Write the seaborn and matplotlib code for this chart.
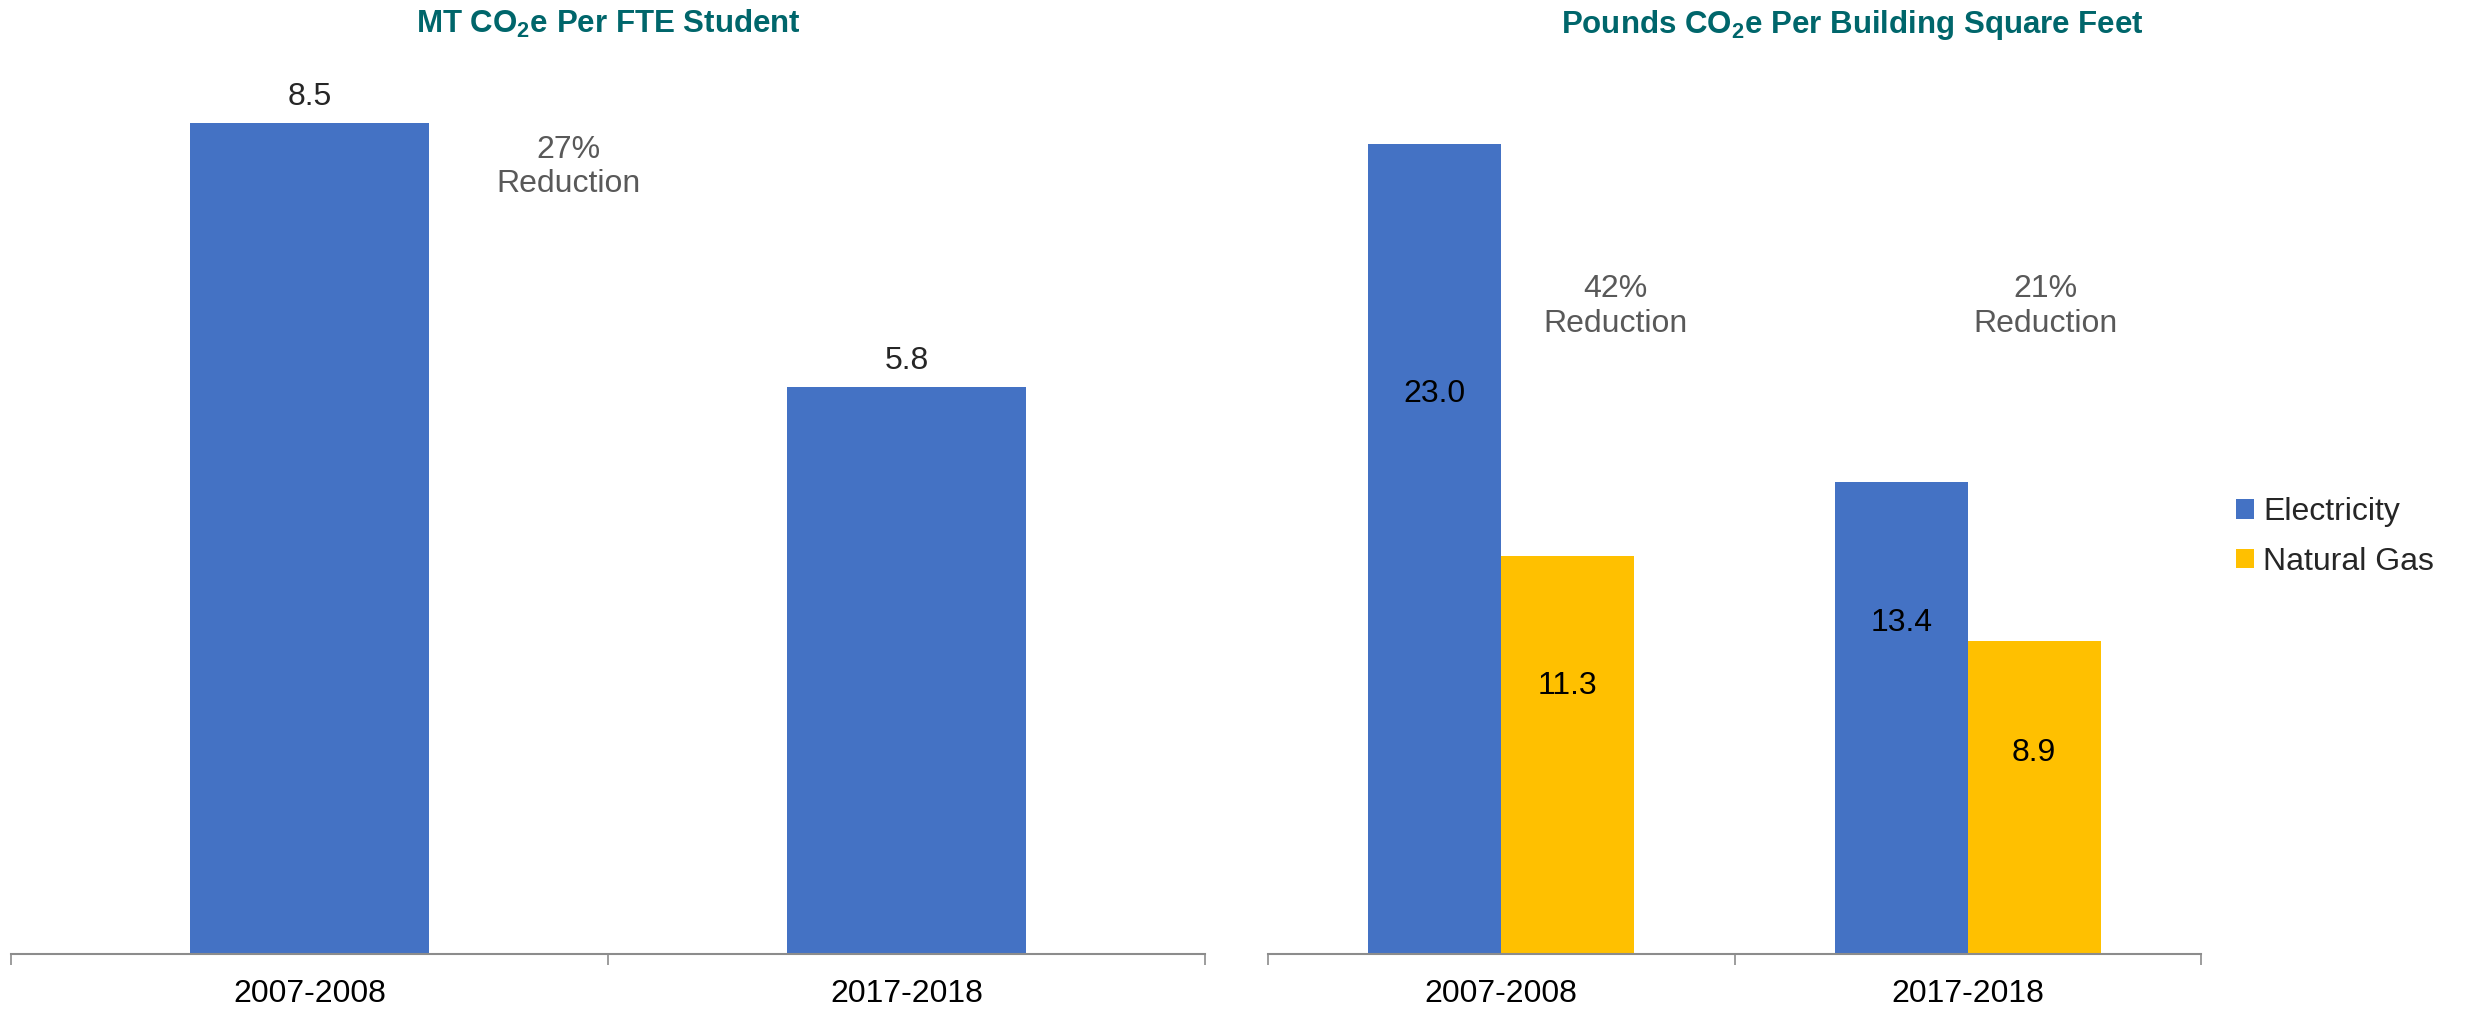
import matplotlib
matplotlib.use("Agg")
import matplotlib.pyplot as plt
from matplotlib.patches import Patch
import seaborn as sns
import pandas as pd

# ---- data ----
years = ['2007-2008', '2017-2018']
per_fte = [8.5, 5.8]
sources = ['Electricity', 'Natural Gas']
electricity = [23.0, 13.4]
natural_gas = [11.3, 8.9]
left_note = '27%\nReduction'
right_notes = ['42%\nReduction', '21%\nReduction']

BLUE = '#4472C4'
GOLD = '#FFC000'
TEAL = '#00666B'
AXIS = '#8C8C8C'
NOTE = '#595959'

sns.set_style('white')
plt.rcParams['font.family'] = ['Liberation Sans', 'DejaVu Sans']
plt.rcParams['mathtext.fontset'] = 'custom'
plt.rcParams['mathtext.rm'] = 'Liberation Sans'
plt.rcParams['mathtext.bf'] = 'Liberation Sans:bold'

W, H = 2468, 1009
fig = plt.figure(figsize=(W / 100, H / 100), dpi=100)

def px_axes(x0, x1, y_top, y_bot):
    return fig.add_axes([x0 / W, 1 - y_bot / H, (x1 - x0) / W, (y_bot - y_top) / H])

ax1 = px_axes(11, 1205, 74, 954)
ax2 = px_axes(1268, 2201, 74, 954)

# ---- left: per FTE student ----
df1 = pd.DataFrame({'year': years, 'value': per_fte})
sns.barplot(data=df1, x='year', y='value', color=BLUE, width=0.4,
            saturation=1, linewidth=0, ax=ax1)
ax1.bar_label(ax1.containers[0], fmt='%.1f', padding=8, fontsize=23)
ax1.set_ylim(0, 9)
ax1.text(0.433, 8.05, left_note, ha='center', va='center', fontsize=23, color=NOTE)

# ---- right: per building square feet ----
df2 = pd.DataFrame({
    'year': years * 2,
    'source': [sources[0]] * 2 + [sources[1]] * 2,
    'value': electricity + natural_gas,
})
sns.barplot(data=df2, x='year', y='value', hue='source', palette=[BLUE, GOLD],
            width=0.57, saturation=1, linewidth=0, ax=ax2, legend=False)
ax2.set_ylim(0, 25)
label_heights = [[15.9, 9.4], [7.6, 5.7]]
for cont, vals, ys in zip(ax2.containers, [electricity, natural_gas], label_heights):
    for bar, v, yy in zip(cont, vals, ys):
        ax2.text(bar.get_x() + bar.get_width() / 2, yy, f'{v:.1f}',
                 ha='center', va='center', fontsize=23, color='black')
for xpos, note in zip([0.245, 1.167], right_notes):
    ax2.text(xpos, 18.4, note, ha='center', va='center', fontsize=23, color=NOTE)

# ---- shared axis styling ----
for ax in (ax1, ax2):
    ax.set_xlim(-0.5, 1.5)
    ax.set_xlabel('')
    ax.set_ylabel('')
    ax.set_yticks([])
    for s in ('top', 'left', 'right'):
        ax.spines[s].set_visible(False)
    ax.spines['bottom'].set_color(AXIS)
    ax.spines['bottom'].set_linewidth(1.5)
    ax.set_xticks([-0.5, 0.5, 1.5], minor=True)
    ax.tick_params(axis='x', which='minor', bottom=True, length=8, width=1.2,
                   color=AXIS, direction='out')
    ax.tick_params(axis='x', which='major', bottom=True, length=0, pad=18,
                   labelsize=23, labelcolor='black')

# ---- titles ----
fig.text(608 / W, 1 - 33 / H, r'MT CO$_{\mathbf{2}}$e Per FTE Student',
         ha='center', va='baseline', fontsize=22.5, fontweight='bold', color=TEAL)
fig.text(1852 / W, 1 - 33 / H, r'Pounds CO$_{\mathbf{2}}$e Per Building Square Feet',
         ha='center', va='baseline', fontsize=22.5, fontweight='bold', color=TEAL)

# ---- legend ----
handles = [Patch(facecolor=BLUE, edgecolor='none'), Patch(facecolor=GOLD, edgecolor='none')]
fig.legend(handles, sources, loc='center left', bbox_to_anchor=(2236 / W, 1 - 537 / H),
           frameon=False, fontsize=23, handlelength=0.55, handleheight=0.55,
           handletextpad=0.3, labelspacing=0.6, borderaxespad=0, borderpad=0)

fig.savefig('out.png', dpi=100)
